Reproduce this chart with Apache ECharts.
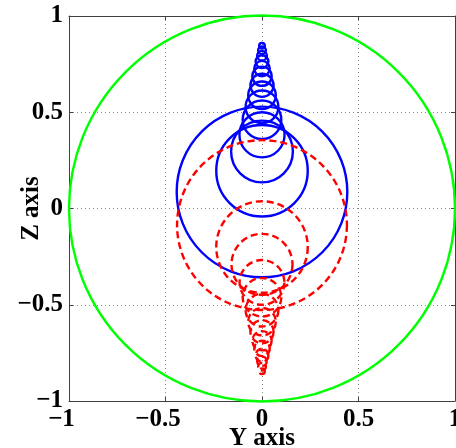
<!DOCTYPE html>
<html>
<head>
<meta charset="utf-8">
<script src="https://cdn.jsdelivr.net/npm/echarts@6/dist/echarts.min.js"></script>
<style>html,body{margin:0;padding:0;background:#fff}#c{width:456px;height:448px}</style>
</head>
<body>
<div id="c"></div>
<script>
// Tick values (both axes)
const xTicks = [-1, -0.5, 0, 0.5, 1];
const yTicks = [-1, -0.5, 0, 0.5, 1];

// Blue (solid) circles: centre on Z axis and radius
const blueCenterZ = [0.086, 0.196, 0.296, 0.383, 0.461, 0.528, 0.588, 0.640, 0.687, 0.727, 0.763, 0.794, 0.822, 0.846];
const blueRadius  = [0.442, 0.237, 0.160, 0.117, 0.100, 0.085, 0.0715, 0.060, 0.050, 0.040, 0.033, 0.025, 0.020, 0.0145];

// Red (dashed) circles
const redCenterZ = [-0.086, -0.200, -0.290, -0.384, -0.461, -0.528, -0.588, -0.640, -0.687, -0.727, -0.763, -0.794, -0.822, -0.846];
const redRadius  = [0.440, 0.237, 0.158, 0.116, 0.100, 0.085, 0.0715, 0.060, 0.050, 0.040, 0.033, 0.025, 0.020, 0.0145];

// Green boundary circle
const greenCenterZ = [0];
const greenRadius = [1];

const FONT = 'Liberation Serif';

function toData(zs, rs) { return zs.map((z, i) => [0, z, rs[i]]); }

function circleRenderer(color, dash) {
  return function (params, api) {
    const c = api.coord([api.value(0), api.value(1)]);
    const r = api.size([api.value(2), 0])[0];
    return {
      type: 'circle',
      shape: { cx: c[0], cy: c[1], r: r },
      style: { fill: null, stroke: color, lineWidth: 2.4, lineDash: dash }
    };
  };
}

function fmt(v) { return v < 0 ? '{n|\u2212' + Math.abs(v) + '}' : '{p|' + v + '}'; }
function fmtY(v) { return v < 0 ? '\u2212' + Math.abs(v) : String(v); }

const labelText = { fontFamily: FONT, fontWeight: 'bold', fontSize: 25, color: '#000' };
const boxLine = { show: true, onZero: false, lineStyle: { color: '#404040', width: 1 } };
const boxTick = { show: true, inside: true, length: 4, lineStyle: { color: '#404040' } };

const chart = echarts.init(document.getElementById('c'), null, { renderer: 'canvas' });
chart.setOption({
  animation: false,
  backgroundColor: '#fff',
  grid: { left: 69, right: 1, top: 16, bottom: 47, containLabel: false, outerBoundsMode: 'none' },
  xAxis: [{
    type: 'value', min: xTicks[0], max: xTicks[xTicks.length - 1], interval: xTicks[1] - xTicks[0],
    name: 'Y axis', nameLocation: 'middle', nameGap: 25, nameMoveOverlap: false,
    nameTextStyle: { fontFamily: FONT, fontWeight: 'bold', fontSize: 25, color: '#000' },
    axisLine: boxLine, axisTick: boxTick,
    axisLabel: {
      margin: 6, formatter: fmt,
      rich: {
        n: Object.assign({}, labelText, { padding: [0, 15, 0, 0] }),
        p: Object.assign({}, labelText)
      }
    },
    splitLine: { show: true, lineStyle: { color: '#888', type: [1, 3], width: 1 } }
  }, {
    type: 'value', position: 'top', min: -1, max: 1, interval: 0.5,
    axisLine: boxLine, axisTick: boxTick,
    axisLabel: { show: false }, splitLine: { show: false }
  }],
  yAxis: [{
    type: 'value', min: yTicks[0], max: yTicks[yTicks.length - 1], interval: yTicks[1] - yTicks[0],
    name: 'Z axis', nameLocation: 'middle', nameGap: 25, nameRotate: 90, nameMoveOverlap: false,
    nameTextStyle: { fontFamily: FONT, fontWeight: 'bold', fontSize: 25, color: '#000' },
    axisLine: boxLine, axisTick: boxTick,
    axisLabel: Object.assign({ margin: 6, formatter: fmtY }, labelText),
    splitLine: { show: true, lineStyle: { color: '#888', type: [1, 3], width: 1 } }
  }, {
    type: 'value', position: 'right', min: -1, max: 1, interval: 0.5,
    axisLine: boxLine, axisTick: boxTick,
    axisLabel: { show: false }, splitLine: { show: false }
  }],
  series: [
    { type: 'custom', name: 'green', renderItem: circleRenderer('#00ff00', null),
      data: toData(greenCenterZ, greenRadius), encode: { x: 0, y: 1 }, clip: false, silent: true },
    { type: 'custom', name: 'blue', renderItem: circleRenderer('#0000ff', null),
      data: toData(blueCenterZ, blueRadius), encode: { x: 0, y: 1 }, clip: false, silent: true },
    { type: 'custom', name: 'red', renderItem: circleRenderer('#ff0000', [7, 4]),
      data: toData(redCenterZ, redRadius), encode: { x: 0, y: 1 }, clip: false, silent: true }
  ]
});
</script>
</body>
</html>
